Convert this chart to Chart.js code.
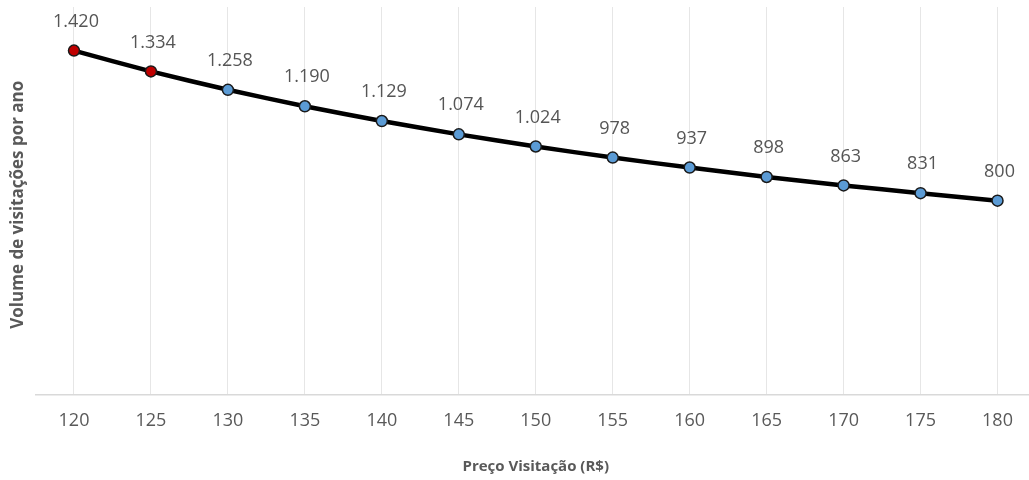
<!DOCTYPE html>
<html>
<head>
<meta charset="utf-8">
<script src="https://cdn.jsdelivr.net/npm/chart.js@4"></script>
<style>
  html, body { margin: 0; padding: 0; background: #fff; overflow: hidden; }
</style>
</head>
<body>
<canvas id="chart" width="1043" height="480"></canvas>
<script>
// data ---------------------------->
const precos = ['120','125','130','135','140','145','150','155','160','165','170','175','180']
const volumes = [1420,1334,1258,1190,1129,1074,1024,978,937,898,863,831,800]
const pointColors = ['#C00000','#C00000','#5B9BD5','#5B9BD5','#5B9BD5','#5B9BD5','#5B9BD5','#5B9BD5','#5B9BD5','#5B9BD5','#5B9BD5','#5B9BD5','#5B9BD5']
const yTitle = 'Volume de visitações por ano'
const xTitle = 'Preço Visitação (R$)'

const fmt = v => v.toLocaleString('pt-BR')

// labels above points
const valueLabels = {
    id: 'valueLabels',
    afterDatasetsDraw(chart){
        let ctx = chart.ctx
        let meta = chart.getDatasetMeta(0)
        ctx.save()
        ctx.font = '18px "Open Sans"'
        ctx.fillStyle = '#555555'
        ctx.textAlign = 'center'
        ctx.textBaseline = 'middle'
        meta.data.forEach((pt, i) => {
            ctx.fillText(fmt(volumes[i]), pt.x + 2, pt.y - 29)
        })
        ctx.restore()
    }
}

// vertical y title (axis itself hidden)
const yTitlePlugin = {
    id: 'yTitlePlugin',
    afterDraw(chart){
        let ctx = chart.ctx
        let area = chart.chartArea
        ctx.save()
        ctx.font = 'bold 17px "Open Sans"'
        ctx.fillStyle = '#595959'
        ctx.textAlign = 'center'
        ctx.textBaseline = 'middle'
        ctx.translate(18, (area.top + area.bottom) / 2 + 4)
        ctx.rotate(-Math.PI / 2)
        ctx.fillText(yTitle, 0, 0)
        ctx.restore()
    }
}

let chart = new Chart(document.getElementById('chart').getContext('2d'), {
    type: 'line',
    data: {
        labels: precos,
        datasets: [{
            data: volumes,
            borderColor: '#000000',
            borderWidth: 4.5,
            tension: 0.2,
            pointRadius: 5.5,
            pointBackgroundColor: pointColors,
            pointBorderColor: '#1a1a1a',
            pointBorderWidth: 1.5
        }]
    },
    options: {
        responsive: false,
        animation: false,
        layout: { padding: { left: 35.5, right: 0, top: 7, bottom: 4 } },
        plugins: {
            legend: { display: false },
            tooltip: { enabled: false }
        },
        scales: {
            x: {
                offset: true,
                grid: { offset: false, color: '#e6e6e6', drawTicks: false },
                border: { color: '#d9d9d9', width: 1.5 },
                ticks: { color: '#595959', font: { family: 'Open Sans', size: 18 }, padding: 16, maxRotation: 0 },
                title: {
                    display: true,
                    text: xTitle,
                    color: '#595959',
                    font: { family: 'Open Sans', size: 15, weight: 'bold' },
                    padding: { top: 10, bottom: 0 }
                }
            },
            y: {
                display: false,
                min: 0,
                max: 1600
            }
        }
    },
    plugins: [valueLabels, yTitlePlugin]
})
</script>
</body>
</html>
